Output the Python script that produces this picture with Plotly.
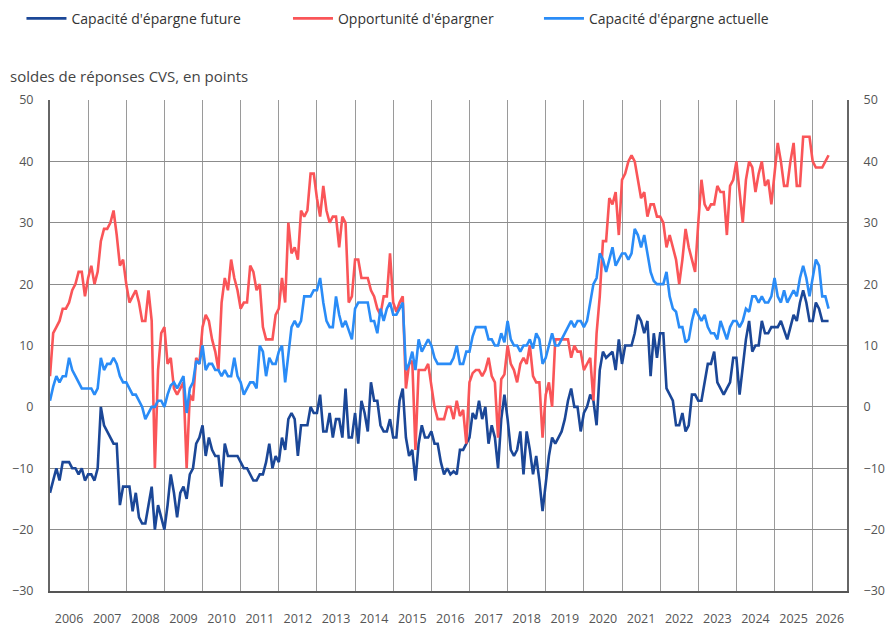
import plotly.graph_objects as go

# ---- data (monthly balances, Jan 2006 onward) ----
years = ["2006", "2007", "2008", "2009", "2010", "2011", "2012", "2013", "2014", "2015",
         "2016", "2017", "2018", "2019", "2020", "2021", "2022", "2023", "2024", "2025", "2026"]

opportunite = [
    5, 12, 13, 14, 16, 16, 17, 19, 20, 22, 22, 18,
    21, 23, 20, 22, 27, 29, 29, 30, 32, 28, 23, 24,
    20, 17, 18, 19, 17, 14, 14, 19, 14, -10, 6, 12,
    13, 7, 8, 3, 2, 3, 4, -10, 2, 1, 8, 7,
    13, 15, 14, 11, 9, 6, 17, 21, 19, 24, 21, 19,
    16, 17, 17, 23, 22, 19, 20, 13, 11, 11, 11, 15,
    16, 21, 17, 30, 25, 26, 24, 32, 31, 32, 38, 38,
    34, 31, 36, 32, 30, 31, 31, 26, 31, 30, 17, 18,
    24, 24, 21, 21, 21, 19, 18, 16, 15, 18, 18, 25,
    17, 15.5, 17, 18, 3, 7, 7.5, -7, 6, 6, 6, 7,
    3.5, 0, -2, -2, -2, 0, 0, -2, 1, -1.5, -0.5, -6,
    4, 5.5, 6, 6, 5, 6, 8, 5, 4, -5, 4.5, 5.3,
    10, 7, 6, 4, 7, 8, 7, 10, 5, 4, 4, -5,
    2, 4, 0, 11, 11, 11, 11, 11, 8, 10, 9, 9,
    6, 7, 8, 1, 12, 18, 27, 27, 34, 33, 35, 28,
    37, 38, 40, 41, 40, 37, 34, 35, 31, 33, 33, 31,
    31, 30, 26, 28, 26, 24, 20, 24, 29, 26, 24, 22,
    30, 37, 33, 32, 33, 33, 36, 35, 35, 28, 36, 37,
    40, 35, 30, 37, 40, 39, 35, 38, 40, 36, 37, 33,
    38, 43, 40, 36, 36, 40, 43, 36, 36, 44, 44, 44,
    40, 39, 39, 39, 40, 41,
]

capacite_actuelle = [
    1, 3.3, 5, 4, 5, 5, 8, 6, 5, 4, 3, 3,
    3, 3, 2, 3, 8, 6, 7, 7, 8, 7, 5, 4,
    4, 3, 2, 2, 1, 0, -2, -1, 0, 0, 1, 1,
    0, 2, 3.5, 4, 3, 4, 5, -1, 3, 4, 7.5, 7,
    10, 6, 7, 7, 6, 6, 5, 6, 5, 5, 8, 5,
    4, 2, 3, 4, 4, 3, 10, 9, 5, 8, 7, 7,
    9, 10, 4, 9, 13, 14, 13, 14, 18, 18, 18, 19,
    19, 21, 17, 14, 13, 13, 18, 15, 13, 14, 12.5, 11,
    16, 17, 17, 17, 17, 14, 14, 12, 16, 14, 16, 17,
    15, 15, 16, 17, 6, 7, 9, 6, 11, 9, 10, 11,
    10, 8, 7, 7, 7, 7, 7, 8, 10, 7, 7, 9,
    9, 11.5, 13, 13, 13, 13, 11, 11, 10, 10, 12, 10.5,
    14, 11, 10, 10, 9, 10, 10, 11, 9.5, 12, 11, 7,
    8, 10, 12, 10, 10, 11, 12, 13, 14, 13, 14, 14,
    13, 14, 17, 20, 21, 25, 24, 22, 24, 26, 23, 24,
    25, 25, 24, 25, 29, 28, 26, 28, 25, 22, 20.5, 20,
    20, 20, 22, 18, 16, 15.5, 13, 13, 10.5, 11, 14, 16,
    15, 14, 15, 13, 12, 12, 11, 14, 12.5, 11, 13, 14,
    14, 13, 14, 16, 15.5, 18, 18, 17, 18, 17, 17, 18,
    21, 18, 17, 19, 17, 18, 19, 18, 21, 23, 21, 18,
    21, 24, 23, 18, 18, 16,
]

capacite_future = [
    -14, -12, -10, -12, -9, -9, -9, -10, -10, -11, -10, -12,
    -11, -11, -12, -10, 0, -3, -4, -5, -6, -6, -16, -13,
    -13, -13, -17, -14, -18, -19, -19, -16, -13, -20, -16, -18,
    -20, -16, -11, -14, -18, -14, -13, -15, -11, -10, -6, -5,
    -3, -8, -5, -7, -8, -8, -13, -6, -8, -8, -8, -8,
    -9, -10, -10, -11, -12, -12, -11, -11, -9, -6, -10, -8,
    -9, -5, -7, -2, -1, -2, -8, -3, -3, -3, 0, -1,
    -1, 2, -4, -4, -1, -5, -2, -2, -5, 3, -5, -5,
    -1, -6, 1, -1, -4, 4, 1, 1, -3, -4, -4, -2,
    -5, -5, 1, 3, -5, -8, -7, -12, -6, -3, -5, -5,
    -4, -6, -6, -9, -11, -10, -11, -10.5, -11, -7, -7, -6,
    -5, -1, -2, 1, -2, 0, -6, -3, -5, -10, -2, 2,
    -2, -7, -8, -7, -4, -11, -4, -7, -11, -8, -12, -17,
    -12, -8, -5, -6, -5, -4, -2, 1, 3, 0, 0, -4,
    -1, 0, 2, 1, -3, 6, 9, 8, 8.5, 9, 6, 11,
    7, 10, 10, 10, 12, 15, 14, 12, 14, 5, 12, 8,
    12, 12, 3, 2, 1, -3, -3, -1, -4, -3, 2, 2,
    1, 1, 4, 7, 7, 9, 4, 3, 2, 3, 4, 8,
    8, 2, 7, 11, 14, 9, 10, 10, 14, 12, 12, 13,
    13, 13, 14, 12.5, 11, 13, 15, 14, 17, 19, 17, 14,
    14, 17, 16, 14, 14, 14,
]

months = list(range(len(opportunite)))          # month index from Jan 2006
year_starts = [12 * i for i in range(len(years))]
x_end = 250.8
label_pos = [s + 6 for s in year_starts[:-1]] + [(year_starts[-1] + x_end) / 2]

C_DARK = "#1b4797"
C_RED = "#fa5558"
C_LIGHT = "#2a8cf7"
FONT = "Open Sans"

fig = go.Figure()
fig.add_trace(go.Scatter(x=months, y=capacite_future, mode="lines",
                         name="Capacité d'épargne future",
                         line=dict(color=C_DARK, width=2.6), legend="legend"))
fig.add_trace(go.Scatter(x=months, y=opportunite, mode="lines",
                         name="Opportunité d'épargner",
                         line=dict(color=C_RED, width=2.6), legend="legend2"))
fig.add_trace(go.Scatter(x=months, y=capacite_actuelle, mode="lines",
                         name="Capacité d'épargne actuelle",
                         line=dict(color=C_LIGHT, width=2.6), legend="legend3",
                         yaxis="y2"))

leg_common = dict(orientation="h", xanchor="left", yanchor="top", y=1.198,
                  font=dict(family=FONT, size=14, color="#333"),
                  bgcolor="rgba(0,0,0,0)", itemwidth=40)

fig.update_layout(
    width=887, height=626,
    margin=dict(l=50, r=40, t=100, b=35, autoexpand=False),
    paper_bgcolor="white", plot_bgcolor="white",
    font=dict(family=FONT, size=13, color="#555"),
    legend=dict(x=-0.0358, **leg_common),
    legend2=dict(x=0.2986, **leg_common),
    legend3=dict(x=0.6135, **leg_common),
    xaxis=dict(range=[0, x_end], tickmode="array", tickvals=label_pos, ticktext=years,
               showgrid=False, zeroline=False, ticks="", ticklabelstandoff=15,
               showline=True, linecolor="#555", linewidth=2, automargin=False,
               tickfont=dict(family=FONT, size=12.5, color="#555"),
               minor=dict(tickmode="array", tickvals=year_starts, showgrid=True,
                          gridcolor="#9a9a9a", gridwidth=1, ticks="")),
    yaxis=dict(range=[-30, 50], dtick=10, showgrid=True, gridcolor="#8c8c8c", gridwidth=1,
               zeroline=False, showline=True, linecolor="#666", linewidth=2,
               ticks="", ticklabelstandoff=12, automargin=False,
               tickfont=dict(family=FONT, size=12.5, color="#555")),
    yaxis2=dict(range=[-30, 50], dtick=10, overlaying="y", side="right", showgrid=False,
                zeroline=False, showline=True, linecolor="#666", linewidth=2,
                ticks="", ticklabelstandoff=12, automargin=False,
                tickfont=dict(family=FONT, size=12.5, color="#555")),
    annotations=[dict(text="soldes de réponses CVS, en points", xref="paper", yref="paper",
                      x=-0.0527, y=1.049, xanchor="left", yanchor="middle", showarrow=False,
                      font=dict(family=FONT, size=15, color="#444"))],
    showlegend=True,
)

fig.write_html("out.html", config={"displayModeBar": False},
               post_script="document.body.style.margin='0';")
